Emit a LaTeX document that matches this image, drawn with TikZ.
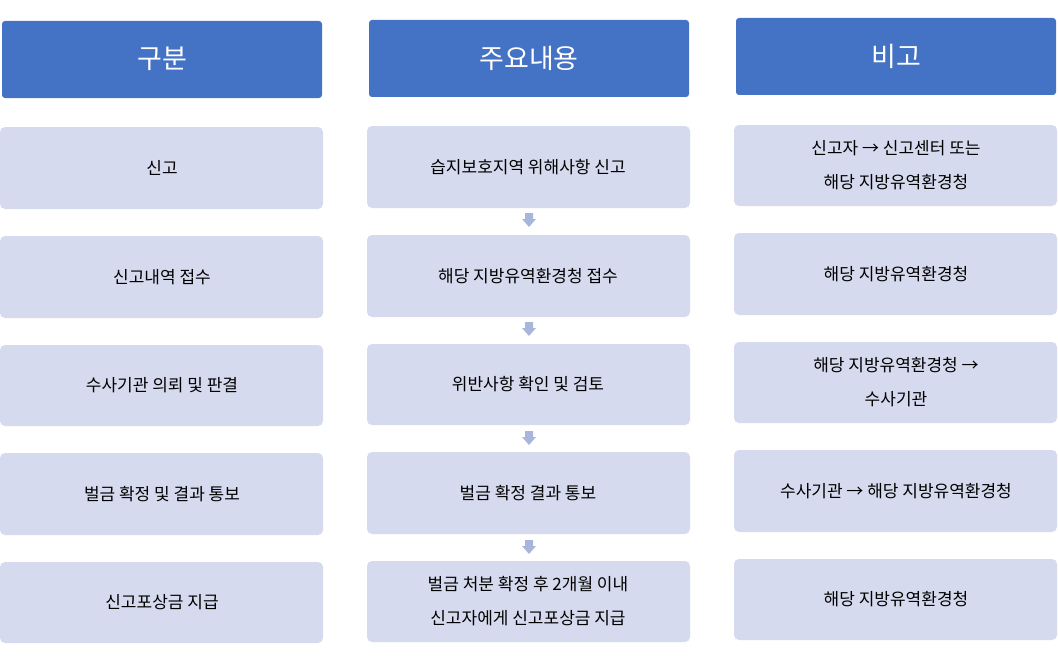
\documentclass[tikz,border=0pt]{standalone}
\usepackage{fontspec}
\setmainfont{Noto Sans CJK KR}
\begin{document}
\begin{tikzpicture}[x=1pt,y=-1pt,
  hdr/.style={fill=hblue,rounded corners=3pt,text=white,font=\fontsize{27}{30}\selectfont},
  cell/.style={fill=cellc,rounded corners=5pt,font=\fontsize{17}{34}\selectfont,align=center},
  arr/.style={fill=arrc}]
\definecolor{hblue}{HTML}{4472C4}
\definecolor{cellc}{HTML}{D6DAEE}
\definecolor{arrc}{HTML}{A8B6DC}
\useasboundingbox (0,0) rectangle (1058,661);
\newcommand{\bx}[6]{\path[#6] (#1,#2) rectangle (#3,#4) node[midway] (#5) {}; }
% headers
\fill[hblue,rounded corners=3pt] (2,21) rectangle (322,98);
\node[text=white,font=\fontsize{27}{30}\selectfont] (h1) at (162,59) {구분};
\fill[hblue,rounded corners=3pt] (369,20) rectangle (689,97);
\node[text=white,font=\fontsize{27}{30}\selectfont] (h2) at (529,58) {주요내용};
\fill[hblue,rounded corners=3pt] (736,18) rectangle (1056,95);
\node[text=white,font=\fontsize{27}{30}\selectfont] (h3) at (896,56) {비고};
% column 1
\foreach \t/\b/\txt [count=\i] in {127/209/신고,236/318/신고내역 접수,345/426/수사기관 의뢰 및 판결,453/535/벌금 확정 및 결과 통보,562/643/신고포상금 지급}{
  \fill[cellc,rounded corners=5pt] (0,\t) rectangle (323,\b);
  \node[font=\fontsize{17}{34}\selectfont] (a\i) at (162,{(\t+\b)/2}) {\txt};
}
% column 2
\foreach \t/\b/\txt [count=\i] in {126/208/습지보호지역 위해사항 신고,235/317/해당 지방유역환경청 접수,344/425/위반사항 확인 및 검토,452/534/벌금 확정 결과 통보,561/642/{벌금 처분 확정 후 2개월 이내\\신고자에게 신고포상금 지급}}{
  \fill[cellc,rounded corners=5pt] (367,\t) rectangle (690,\b);
  \node[font=\fontsize{17}{34}\selectfont,align=center] (b\i) at (528,{(\t+\b)/2}) {\txt};
}
% column 3
\foreach \t/\b/\txt [count=\i] in {125/206/{신고자 → 신고센터 또는\\해당 지방유역환경청},233/315/해당 지방유역환경청,342/423/{해당 지방유역환경청 →\\수사기관},450/532/수사기관 → 해당 지방유역환경청,559/640/해당 지방유역환경청}{
  \fill[cellc,rounded corners=5pt] (734,\t) rectangle (1057,\b);
  \node[font=\fontsize{17}{34}\selectfont,align=center] (c\i) at (896,{(\t+\b)/2}) {\txt};
}
% arrows
\foreach \y in {213,322,431,540}{
  \fill[arrc] (525,\y) -- (533,\y) -- (533,\y+6) -- (536,\y+6) -- (529,\y+14) -- (522,\y+6) -- (525,\y+6) -- cycle;
}
\end{tikzpicture}
\end{document}
